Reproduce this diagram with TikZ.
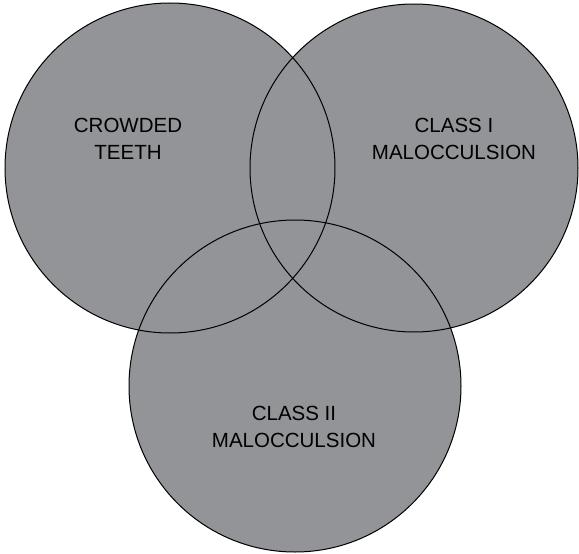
\documentclass[tikz,border=0pt]{standalone}
\usepackage{fontspec}
\setmainfont{Liberation Sans}
\definecolor{vennfill}{HTML}{939497}
\begin{document}
\begin{tikzpicture}[x=1pt,y=-1pt,
  lbl/.style={align=center,font=\fontsize{20.5}{26.5}\selectfont,text=black,inner sep=0pt},
  ring/.style={draw=black,line width=1pt}]
\useasboundingbox (0,0) rectangle (579,554);
\fill[vennfill] (170,168) circle (165);
\fill[vennfill] (414,168) circle (164);
\fill[vennfill] (295,386) circle (166);
\draw[ring] (170,168) circle (165);
\draw[ring] (414,168) circle (164);
\draw[ring] (295,386) circle (166);
\node[lbl] (crowd) at (128,139) {CROWDED\\TEETH};
\node[lbl] (c1) at (454,139) {CLASS I\\MALOCCULSION};
\node[lbl] (c2) at (294,427) {CLASS II\\MALOCCULSION};
\end{tikzpicture}
\end{document}
